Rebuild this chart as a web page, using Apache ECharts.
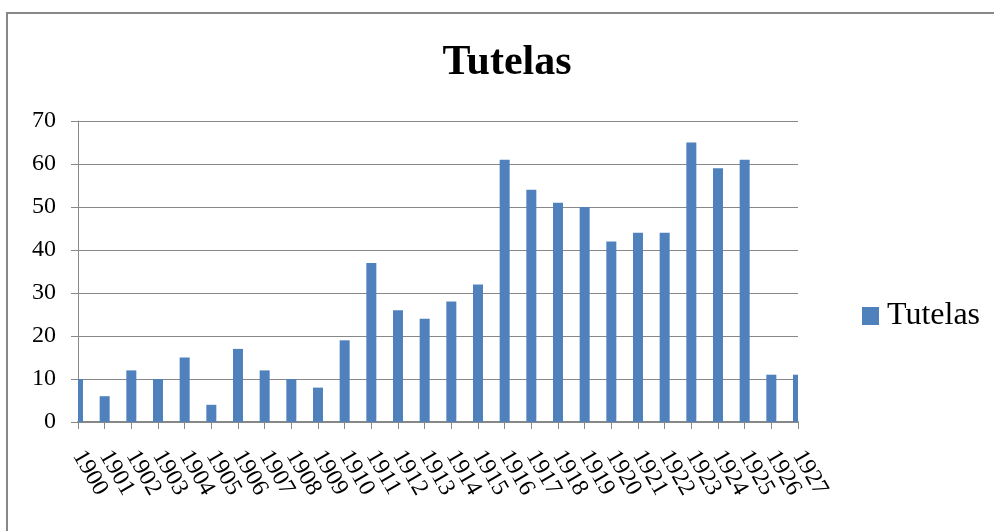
<!DOCTYPE html>
<html>
<head>
<meta charset="utf-8">
<script src="https://cdn.jsdelivr.net/npm/echarts@6/dist/echarts.min.js"></script>
<style>
  html, body { margin: 0; padding: 0; background: #fff; }
  #chart { width: 994px; height: 531px; }
</style>
</head>
<body>
<div id="chart"></div>
<script>
const years = [
  "1900", "1901", "1902", "1903", "1904", "1905", "1906", "1907", "1908", "1909",
  "1910", "1911", "1912", "1913", "1914", "1915", "1916", "1917", "1918", "1919",
  "1920", "1921", "1922", "1923", "1924", "1925", "1926", "1927",
];
const tutelas = [
  10, 6, 12, 10, 15, 4, 17, 12, 10, 8,
  19, 37, 26, 24, 28, 32, 61, 54, 51, 50,
  42, 44, 44, 65, 59, 61, 11, 11,
];
const yTicks = [0, 10, 20, 30, 40, 50, 60, 70];

const serif = "Liberation Serif";
const barColor = "#4F81BD";
const chart = echarts.init(document.getElementById("chart"));

// bars sit on the category ticks, so the end ones get cut by the plot edge
function renderBar(params, api) {
  const top = api.coord([api.value(0), api.value(1)]);
  const base = api.coord([api.value(0), 0]);
  const cs = params.coordSys;
  const shape = echarts.graphic.clipRectByRect(
    { x: top[0] - 5, y: top[1], width: 10, height: base[1] - top[1] },
    { x: cs.x, y: cs.y, width: cs.width, height: cs.height }
  );
  return shape && { type: "rect", shape: shape, style: api.style() };
}

chart.setOption({
  backgroundColor: "#fff",
  animation: false,
  graphic: [
    {
      type: "rect",
      shape: { x: 7, y: 13, width: 1100, height: 600 },
      style: { fill: "none", stroke: "#888", lineWidth: 2 },
      silent: true,
    },
  ],
  title: {
    text: "Tutelas",
    left: 502,
    textAlign: "center",
    top: 37,
    textStyle: { fontFamily: serif, fontWeight: "bold", fontSize: 42, color: "#000" },
  },
  legend: {
    data: ["Tutelas"],
    left: 862,
    top: 300,
    padding: 0,
    orient: "vertical",
    icon: "rect",
    itemWidth: 17,
    itemHeight: 18,
    textStyle: { fontFamily: serif, fontSize: 32, color: "#000", padding: [0, 0, 0, 3] },
  },
  grid: { left: 78, right: 196, top: 121, bottom: 109 },
  xAxis: {
    type: "category",
    data: years,
    boundaryGap: false,
    axisLine: { lineStyle: { color: "#888", width: 2 } },
    axisTick: { show: true, length: 7, lineStyle: { color: "#888" } },
    axisLabel: {
      interval: 0,
      rotate: -60,
      margin: 30,
      fontFamily: serif,
      fontSize: 24,
      color: "#000",
    },
    splitLine: { show: false },
  },
  yAxis: {
    type: "value",
    min: yTicks[0],
    max: yTicks[yTicks.length - 1],
    interval: 10,
    axisLine: { show: true, lineStyle: { color: "#888" } },
    axisTick: { show: true, length: 7, lineStyle: { color: "#888" } },
    axisLabel: { margin: 22, fontFamily: serif, fontSize: 24, color: "#000" },
    splitLine: { lineStyle: { color: "#888", width: 1 } },
  },
  series: [
    {
      name: "Tutelas",
      type: "custom",
      renderItem: renderBar,
      encode: { x: 0, y: 1 },
      data: tutelas.map((v, i) => [i, v]),
      itemStyle: { color: barColor },
    },
  ],
});
</script>
</body>
</html>
